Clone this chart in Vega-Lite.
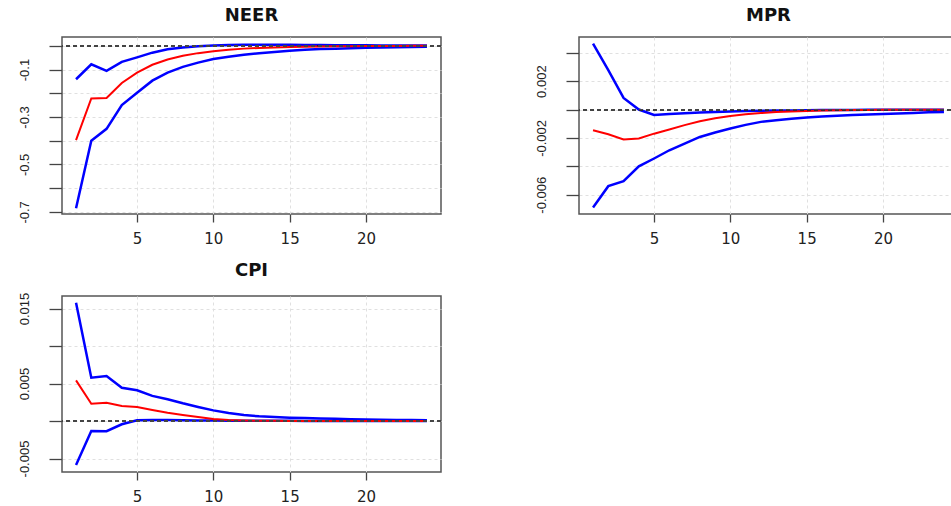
{
  "$schema": "https://vega.github.io/schema/vega-lite/v6.json",
  "background": "white",
  "padding": {"left": 17, "top": 6, "right": 0, "bottom": 5},
  "config": {
    "view": {"stroke": "#555", "strokeWidth": 1.5},
    "axis": {"domain": false, "grid": true, "gridColor": "#e0e0e0", "gridDash": [3, 3], "gridWidth": 1, "tickColor": "#444", "tickWidth": 1.3, "labelColor": "#222", "labelOverlap": false, "labelFlush": false},
    "axisX": {"tickSize": 8, "labelPadding": 9, "labelFont": "DejaVu Sans", "labelFontSize": 15},
    "axisY": {"tickSize": 13, "labelPadding": 18, "labelFont": "Liberation Sans", "labelFontSize": 13, "labelAngle": -90, "labelAlign": "center", "labelBaseline": "bottom"},
    "title": {"font": "DejaVu Sans", "fontSize": 18, "fontWeight": "bold", "color": "#111", "offset": 12}
  },
  "datasets": {
    "irf": [
      {"var": "NEER", "h": 1, "band": "response", "value": -0.398},
      {"var": "NEER", "h": 2, "band": "response", "value": -0.222},
      {"var": "NEER", "h": 3, "band": "response", "value": -0.220},
      {"var": "NEER", "h": 4, "band": "response", "value": -0.157},
      {"var": "NEER", "h": 5, "band": "response", "value": -0.113},
      {"var": "NEER", "h": 6, "band": "response", "value": -0.080},
      {"var": "NEER", "h": 7, "band": "response", "value": -0.058},
      {"var": "NEER", "h": 8, "band": "response", "value": -0.042},
      {"var": "NEER", "h": 9, "band": "response", "value": -0.031},
      {"var": "NEER", "h": 10, "band": "response", "value": -0.023},
      {"var": "NEER", "h": 11, "band": "response", "value": -0.017},
      {"var": "NEER", "h": 12, "band": "response", "value": -0.012},
      {"var": "NEER", "h": 13, "band": "response", "value": -0.009},
      {"var": "NEER", "h": 14, "band": "response", "value": -0.007},
      {"var": "NEER", "h": 15, "band": "response", "value": -0.005},
      {"var": "NEER", "h": 16, "band": "response", "value": -0.004},
      {"var": "NEER", "h": 17, "band": "response", "value": -0.003},
      {"var": "NEER", "h": 18, "band": "response", "value": -0.002},
      {"var": "NEER", "h": 19, "band": "response", "value": -0.0015},
      {"var": "NEER", "h": 20, "band": "response", "value": -0.001},
      {"var": "NEER", "h": 21, "band": "response", "value": -0.0008},
      {"var": "NEER", "h": 22, "band": "response", "value": -0.0006},
      {"var": "NEER", "h": 23, "band": "response", "value": -0.0004},
      {"var": "NEER", "h": 24, "band": "response", "value": -0.0003},
      {"var": "NEER", "h": 1, "band": "upper", "value": -0.141},
      {"var": "NEER", "h": 2, "band": "upper", "value": -0.078},
      {"var": "NEER", "h": 3, "band": "upper", "value": -0.106},
      {"var": "NEER", "h": 4, "band": "upper", "value": -0.068},
      {"var": "NEER", "h": 5, "band": "upper", "value": -0.049},
      {"var": "NEER", "h": 6, "band": "upper", "value": -0.029},
      {"var": "NEER", "h": 7, "band": "upper", "value": -0.015},
      {"var": "NEER", "h": 8, "band": "upper", "value": -0.007},
      {"var": "NEER", "h": 9, "band": "upper", "value": -0.002},
      {"var": "NEER", "h": 10, "band": "upper", "value": 0.001},
      {"var": "NEER", "h": 11, "band": "upper", "value": 0.003},
      {"var": "NEER", "h": 12, "band": "upper", "value": 0.004},
      {"var": "NEER", "h": 13, "band": "upper", "value": 0.004},
      {"var": "NEER", "h": 14, "band": "upper", "value": 0.004},
      {"var": "NEER", "h": 15, "band": "upper", "value": 0.004},
      {"var": "NEER", "h": 16, "band": "upper", "value": 0.0035},
      {"var": "NEER", "h": 17, "band": "upper", "value": 0.003},
      {"var": "NEER", "h": 18, "band": "upper", "value": 0.0025},
      {"var": "NEER", "h": 19, "band": "upper", "value": 0.002},
      {"var": "NEER", "h": 20, "band": "upper", "value": 0.0018},
      {"var": "NEER", "h": 21, "band": "upper", "value": 0.0015},
      {"var": "NEER", "h": 22, "band": "upper", "value": 0.0012},
      {"var": "NEER", "h": 23, "band": "upper", "value": 0.001},
      {"var": "NEER", "h": 24, "band": "upper", "value": 0.0008},
      {"var": "NEER", "h": 1, "band": "lower", "value": -0.685},
      {"var": "NEER", "h": 2, "band": "lower", "value": -0.400},
      {"var": "NEER", "h": 3, "band": "lower", "value": -0.350},
      {"var": "NEER", "h": 4, "band": "lower", "value": -0.250},
      {"var": "NEER", "h": 5, "band": "lower", "value": -0.198},
      {"var": "NEER", "h": 6, "band": "lower", "value": -0.147},
      {"var": "NEER", "h": 7, "band": "lower", "value": -0.113},
      {"var": "NEER", "h": 8, "band": "lower", "value": -0.089},
      {"var": "NEER", "h": 9, "band": "lower", "value": -0.071},
      {"var": "NEER", "h": 10, "band": "lower", "value": -0.056},
      {"var": "NEER", "h": 11, "band": "lower", "value": -0.046},
      {"var": "NEER", "h": 12, "band": "lower", "value": -0.038},
      {"var": "NEER", "h": 13, "band": "lower", "value": -0.031},
      {"var": "NEER", "h": 14, "band": "lower", "value": -0.026},
      {"var": "NEER", "h": 15, "band": "lower", "value": -0.021},
      {"var": "NEER", "h": 16, "band": "lower", "value": -0.017},
      {"var": "NEER", "h": 17, "band": "lower", "value": -0.014},
      {"var": "NEER", "h": 18, "band": "lower", "value": -0.012},
      {"var": "NEER", "h": 19, "band": "lower", "value": -0.010},
      {"var": "NEER", "h": 20, "band": "lower", "value": -0.008},
      {"var": "NEER", "h": 21, "band": "lower", "value": -0.007},
      {"var": "NEER", "h": 22, "band": "lower", "value": -0.006},
      {"var": "NEER", "h": 23, "band": "lower", "value": -0.005},
      {"var": "NEER", "h": 24, "band": "lower", "value": -0.004},
      {"var": "MPR", "h": 1, "band": "response", "value": -0.00146},
      {"var": "MPR", "h": 2, "band": "response", "value": -0.00174},
      {"var": "MPR", "h": 3, "band": "response", "value": -0.00211},
      {"var": "MPR", "h": 4, "band": "response", "value": -0.00204},
      {"var": "MPR", "h": 5, "band": "response", "value": -0.00170},
      {"var": "MPR", "h": 6, "band": "response", "value": -0.00141},
      {"var": "MPR", "h": 7, "band": "response", "value": -0.00110},
      {"var": "MPR", "h": 8, "band": "response", "value": -0.00082},
      {"var": "MPR", "h": 9, "band": "response", "value": -0.00062},
      {"var": "MPR", "h": 10, "band": "response", "value": -0.00046},
      {"var": "MPR", "h": 11, "band": "response", "value": -0.00034},
      {"var": "MPR", "h": 12, "band": "response", "value": -0.00025},
      {"var": "MPR", "h": 13, "band": "response", "value": -0.00018},
      {"var": "MPR", "h": 14, "band": "response", "value": -0.00013},
      {"var": "MPR", "h": 15, "band": "response", "value": -0.00010},
      {"var": "MPR", "h": 16, "band": "response", "value": -0.00007},
      {"var": "MPR", "h": 17, "band": "response", "value": -0.00005},
      {"var": "MPR", "h": 18, "band": "response", "value": -0.00004},
      {"var": "MPR", "h": 19, "band": "response", "value": -0.00003},
      {"var": "MPR", "h": 20, "band": "response", "value": -0.00002},
      {"var": "MPR", "h": 21, "band": "response", "value": -0.00002},
      {"var": "MPR", "h": 22, "band": "response", "value": -0.00001},
      {"var": "MPR", "h": 23, "band": "response", "value": -0.00001},
      {"var": "MPR", "h": 24, "band": "response", "value": -0.00001},
      {"var": "MPR", "h": 1, "band": "upper", "value": 0.00465},
      {"var": "MPR", "h": 2, "band": "upper", "value": 0.00277},
      {"var": "MPR", "h": 3, "band": "upper", "value": 0.00082},
      {"var": "MPR", "h": 4, "band": "upper", "value": 0.00000},
      {"var": "MPR", "h": 5, "band": "upper", "value": -0.00038},
      {"var": "MPR", "h": 6, "band": "upper", "value": -0.00032},
      {"var": "MPR", "h": 7, "band": "upper", "value": -0.00026},
      {"var": "MPR", "h": 8, "band": "upper", "value": -0.00021},
      {"var": "MPR", "h": 9, "band": "upper", "value": -0.00017},
      {"var": "MPR", "h": 10, "band": "upper", "value": -0.00014},
      {"var": "MPR", "h": 11, "band": "upper", "value": -0.00011},
      {"var": "MPR", "h": 12, "band": "upper", "value": -0.00009},
      {"var": "MPR", "h": 13, "band": "upper", "value": -0.00007},
      {"var": "MPR", "h": 14, "band": "upper", "value": -0.00006},
      {"var": "MPR", "h": 15, "band": "upper", "value": -0.00005},
      {"var": "MPR", "h": 16, "band": "upper", "value": -0.00004},
      {"var": "MPR", "h": 17, "band": "upper", "value": -0.00003},
      {"var": "MPR", "h": 18, "band": "upper", "value": -0.00003},
      {"var": "MPR", "h": 19, "band": "upper", "value": -0.00002},
      {"var": "MPR", "h": 20, "band": "upper", "value": -0.00002},
      {"var": "MPR", "h": 21, "band": "upper", "value": -0.00002},
      {"var": "MPR", "h": 22, "band": "upper", "value": -0.00001},
      {"var": "MPR", "h": 23, "band": "upper", "value": -0.00001},
      {"var": "MPR", "h": 24, "band": "upper", "value": -0.00001},
      {"var": "MPR", "h": 1, "band": "lower", "value": -0.00690},
      {"var": "MPR", "h": 2, "band": "lower", "value": -0.00540},
      {"var": "MPR", "h": 3, "band": "lower", "value": -0.00505},
      {"var": "MPR", "h": 4, "band": "lower", "value": -0.00400},
      {"var": "MPR", "h": 5, "band": "lower", "value": -0.00345},
      {"var": "MPR", "h": 6, "band": "lower", "value": -0.00287},
      {"var": "MPR", "h": 7, "band": "lower", "value": -0.00240},
      {"var": "MPR", "h": 8, "band": "lower", "value": -0.00193},
      {"var": "MPR", "h": 9, "band": "lower", "value": -0.00162},
      {"var": "MPR", "h": 10, "band": "lower", "value": -0.00134},
      {"var": "MPR", "h": 11, "band": "lower", "value": -0.00108},
      {"var": "MPR", "h": 12, "band": "lower", "value": -0.00087},
      {"var": "MPR", "h": 13, "band": "lower", "value": -0.00075},
      {"var": "MPR", "h": 14, "band": "lower", "value": -0.00065},
      {"var": "MPR", "h": 15, "band": "lower", "value": -0.00056},
      {"var": "MPR", "h": 16, "band": "lower", "value": -0.00049},
      {"var": "MPR", "h": 17, "band": "lower", "value": -0.00043},
      {"var": "MPR", "h": 18, "band": "lower", "value": -0.00038},
      {"var": "MPR", "h": 19, "band": "lower", "value": -0.00035},
      {"var": "MPR", "h": 20, "band": "lower", "value": -0.00032},
      {"var": "MPR", "h": 21, "band": "lower", "value": -0.00028},
      {"var": "MPR", "h": 22, "band": "lower", "value": -0.00024},
      {"var": "MPR", "h": 23, "band": "lower", "value": -0.00020},
      {"var": "MPR", "h": 24, "band": "lower", "value": -0.00017},
      {"var": "CPI", "h": 1, "band": "response", "value": 0.00542},
      {"var": "CPI", "h": 2, "band": "response", "value": 0.00230},
      {"var": "CPI", "h": 3, "band": "response", "value": 0.00244},
      {"var": "CPI", "h": 4, "band": "response", "value": 0.00200},
      {"var": "CPI", "h": 5, "band": "response", "value": 0.00187},
      {"var": "CPI", "h": 6, "band": "response", "value": 0.00147},
      {"var": "CPI", "h": 7, "band": "response", "value": 0.00111},
      {"var": "CPI", "h": 8, "band": "response", "value": 0.00080},
      {"var": "CPI", "h": 9, "band": "response", "value": 0.00053},
      {"var": "CPI", "h": 10, "band": "response", "value": 0.00027},
      {"var": "CPI", "h": 11, "band": "response", "value": 0.00013},
      {"var": "CPI", "h": 12, "band": "response", "value": 0.00006},
      {"var": "CPI", "h": 13, "band": "response", "value": 0.00003},
      {"var": "CPI", "h": 14, "band": "response", "value": 0.00002},
      {"var": "CPI", "h": 15, "band": "response", "value": 0.00001},
      {"var": "CPI", "h": 16, "band": "response", "value": 0.00001},
      {"var": "CPI", "h": 17, "band": "response", "value": 0.00001},
      {"var": "CPI", "h": 18, "band": "response", "value": 0.00001},
      {"var": "CPI", "h": 19, "band": "response", "value": 0.00001},
      {"var": "CPI", "h": 20, "band": "response", "value": 0.00001},
      {"var": "CPI", "h": 21, "band": "response", "value": 0.00001},
      {"var": "CPI", "h": 22, "band": "response", "value": 0.00001},
      {"var": "CPI", "h": 23, "band": "response", "value": 0.00001},
      {"var": "CPI", "h": 24, "band": "response", "value": 0.00001},
      {"var": "CPI", "h": 1, "band": "upper", "value": 0.01578},
      {"var": "CPI", "h": 2, "band": "upper", "value": 0.00578},
      {"var": "CPI", "h": 3, "band": "upper", "value": 0.00600},
      {"var": "CPI", "h": 4, "band": "upper", "value": 0.00444},
      {"var": "CPI", "h": 5, "band": "upper", "value": 0.00410},
      {"var": "CPI", "h": 6, "band": "upper", "value": 0.00335},
      {"var": "CPI", "h": 7, "band": "upper", "value": 0.00290},
      {"var": "CPI", "h": 8, "band": "upper", "value": 0.00236},
      {"var": "CPI", "h": 9, "band": "upper", "value": 0.00187},
      {"var": "CPI", "h": 10, "band": "upper", "value": 0.00142},
      {"var": "CPI", "h": 11, "band": "upper", "value": 0.00107},
      {"var": "CPI", "h": 12, "band": "upper", "value": 0.00080},
      {"var": "CPI", "h": 13, "band": "upper", "value": 0.00062},
      {"var": "CPI", "h": 14, "band": "upper", "value": 0.00052},
      {"var": "CPI", "h": 15, "band": "upper", "value": 0.00045},
      {"var": "CPI", "h": 16, "band": "upper", "value": 0.00040},
      {"var": "CPI", "h": 17, "band": "upper", "value": 0.00034},
      {"var": "CPI", "h": 18, "band": "upper", "value": 0.00029},
      {"var": "CPI", "h": 19, "band": "upper", "value": 0.00024},
      {"var": "CPI", "h": 20, "band": "upper", "value": 0.00020},
      {"var": "CPI", "h": 21, "band": "upper", "value": 0.00017},
      {"var": "CPI", "h": 22, "band": "upper", "value": 0.00014},
      {"var": "CPI", "h": 23, "band": "upper", "value": 0.00012},
      {"var": "CPI", "h": 24, "band": "upper", "value": 0.00010},
      {"var": "CPI", "h": 1, "band": "lower", "value": -0.00587},
      {"var": "CPI", "h": 2, "band": "lower", "value": -0.00133},
      {"var": "CPI", "h": 3, "band": "lower", "value": -0.00135},
      {"var": "CPI", "h": 4, "band": "lower", "value": -0.00044},
      {"var": "CPI", "h": 5, "band": "lower", "value": 0.00010},
      {"var": "CPI", "h": 6, "band": "lower", "value": 0.00012},
      {"var": "CPI", "h": 7, "band": "lower", "value": 0.00012},
      {"var": "CPI", "h": 8, "band": "lower", "value": 0.00010},
      {"var": "CPI", "h": 9, "band": "lower", "value": 0.00008},
      {"var": "CPI", "h": 10, "band": "lower", "value": 0.00006},
      {"var": "CPI", "h": 11, "band": "lower", "value": 0.00005},
      {"var": "CPI", "h": 12, "band": "lower", "value": 0.00004},
      {"var": "CPI", "h": 13, "band": "lower", "value": 0.00003},
      {"var": "CPI", "h": 14, "band": "lower", "value": 0.00002},
      {"var": "CPI", "h": 15, "band": "lower", "value": 0.00002},
      {"var": "CPI", "h": 16, "band": "lower", "value": 0.00001},
      {"var": "CPI", "h": 17, "band": "lower", "value": 0.00001},
      {"var": "CPI", "h": 18, "band": "lower", "value": 0.00001},
      {"var": "CPI", "h": 19, "band": "lower", "value": 0.00001},
      {"var": "CPI", "h": 20, "band": "lower", "value": 0.00001},
      {"var": "CPI", "h": 21, "band": "lower", "value": 0.0},
      {"var": "CPI", "h": 22, "band": "lower", "value": 0.0},
      {"var": "CPI", "h": 23, "band": "lower", "value": 0.0},
      {"var": "CPI", "h": 24, "band": "lower", "value": 0.0}
    ]
  },
  "columns": 2,
  "spacing": {"row": 82, "column": 138},
  "bounds": "flush",
  "resolve": {"scale": {"x": "independent", "y": "independent"}},
  "concat": [
    {
      "title": "NEER",
      "width": 379,
      "height": 177,
      "data": {"name": "irf"},
      "transform": [{"filter": "datum.var === 'NEER'"}],
      "encoding": {
        "x": {"field": "h", "type": "quantitative", "title": null, "scale": {"domain": [0.08, 24.92], "nice": false, "zero": false}, "axis": {"values": [5, 10, 15, 20]}},
        "y": {"field": "value", "type": "quantitative", "title": null, "scale": {"domain": [-0.709, 0.037], "nice": false, "zero": false}, "axis": {"values": [-0.7, -0.6, -0.5, -0.4, -0.3, -0.2, -0.1, 0], "labelExpr": "round(datum.value*10) % 2 != 0 ? replace(format(datum.value, '.1f'), '\u2212', '-') : ''"}}
      },
      "layer": [
        {"transform": [{"filter": "datum.band !== 'response'"}], "mark": {"type": "line", "color": "#0000ff", "strokeWidth": 2.5}, "encoding": {"detail": {"field": "band"}}},
        {"transform": [{"filter": "datum.band === 'response'"}], "mark": {"type": "line", "color": "#ff0000", "strokeWidth": 2}},
        {"mark": {"type": "rule", "color": "#444", "strokeDash": [4, 3], "strokeWidth": 1}, "encoding": {"y": {"datum": 0}, "x": null}}
      ]
    },
    {
      "title": "MPR",
      "width": 379,
      "height": 177,
      "data": {"name": "irf"},
      "transform": [{"filter": "datum.var === 'MPR'"}],
      "encoding": {
        "x": {"field": "h", "type": "quantitative", "title": null, "scale": {"domain": [0.08, 24.92], "nice": false, "zero": false}, "axis": {"values": [5, 10, 15, 20]}},
        "y": {"field": "value", "type": "quantitative", "title": null, "scale": {"domain": [-0.00736, 0.00511], "nice": false, "zero": false}, "axis": {"values": [-0.006, -0.004, -0.002, 0, 0.002, 0.004], "labelExpr": "(round(datum.value*1000) + 2) % 4 == 0 ? replace(format(datum.value, '.3f'), '\u2212', '-') : ''"}}
      },
      "layer": [
        {"transform": [{"filter": "datum.band !== 'response'"}], "mark": {"type": "line", "color": "#0000ff", "strokeWidth": 2.5}, "encoding": {"detail": {"field": "band"}}},
        {"transform": [{"filter": "datum.band === 'response'"}], "mark": {"type": "line", "color": "#ff0000", "strokeWidth": 2}},
        {"mark": {"type": "rule", "color": "#444", "strokeDash": [4, 3], "strokeWidth": 1}, "encoding": {"y": {"datum": 0}, "x": null}}
      ]
    },
    {
      "title": "CPI",
      "width": 379,
      "height": 176,
      "data": {"name": "irf"},
      "transform": [{"filter": "datum.var === 'CPI'"}],
      "encoding": {
        "x": {"field": "h", "type": "quantitative", "title": null, "scale": {"domain": [0.08, 24.92], "nice": false, "zero": false}, "axis": {"values": [5, 10, 15, 20]}},
        "y": {"field": "value", "type": "quantitative", "title": null, "scale": {"domain": [-0.0068, 0.01667], "nice": false, "zero": false}, "axis": {"values": [-0.005, 0, 0.005, 0.01, 0.015], "labelExpr": "round(datum.value*200) % 2 != 0 ? replace(format(datum.value, '.3f'), '\u2212', '-') : ''"}}
      },
      "layer": [
        {"transform": [{"filter": "datum.band !== 'response'"}], "mark": {"type": "line", "color": "#0000ff", "strokeWidth": 2.5}, "encoding": {"detail": {"field": "band"}}},
        {"transform": [{"filter": "datum.band === 'response'"}], "mark": {"type": "line", "color": "#ff0000", "strokeWidth": 2}},
        {"mark": {"type": "rule", "color": "#444", "strokeDash": [4, 3], "strokeWidth": 1}, "encoding": {"y": {"datum": 0}, "x": null}}
      ]
    }
  ]
}
